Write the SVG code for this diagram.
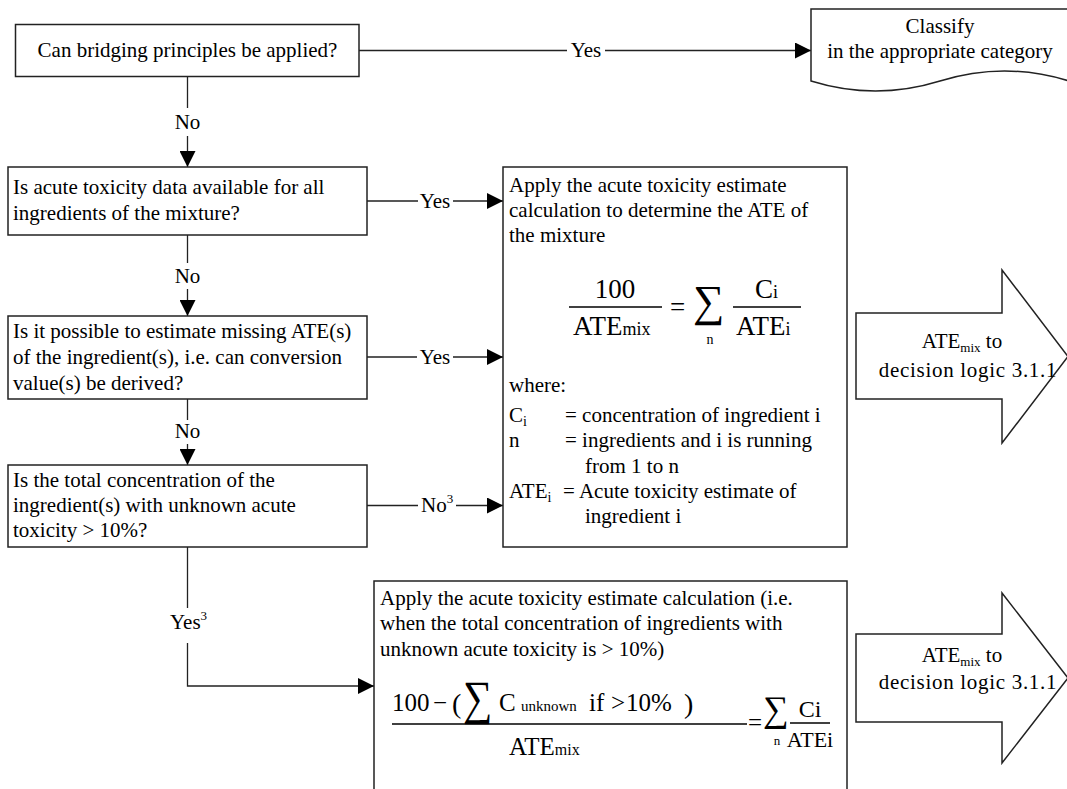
<svg xmlns="http://www.w3.org/2000/svg" width="1067" height="789" viewBox="0 0 1067 789">
<defs>
<marker id="ah" markerWidth="16" markerHeight="16" refX="16" refY="8" orient="auto" markerUnits="userSpaceOnUse"><path d="M0,0 L16,8 L0,16 Z" fill="#000"/></marker>
<style>
.box{fill:#fff;stroke:#222;stroke-width:1.5}
.t{font-family:"Liberation Serif","Times New Roman",serif;font-size:21px;fill:#000}
.c{text-anchor:middle}
.ln{fill:none;stroke:#222;stroke-width:1.3}
.fl{stroke:#000;stroke-width:1.3}
.sg{font-family:"Liberation Serif","DejaVu Serif",serif;fill:#000}
.dl{letter-spacing:0.7px}
</style>
</defs>
<rect width="1067" height="789" fill="#fff"/>

<g id="edges">
<path class="ln" d="M359,50.5 H567 M605,50.5 H811" marker-end="url(#ah)"/>
<path class="ln" d="M187.5,76 V108 M187.5,136 V167" marker-end="url(#ah)"/>
<path class="ln" d="M367,201 H418 M453,201 H503" marker-end="url(#ah)"/>
<path class="ln" d="M187.5,235 V263 M187.5,289 V316" marker-end="url(#ah)"/>
<path class="ln" d="M367,357 H417 M453,357 H503" marker-end="url(#ah)"/>
<path class="ln" d="M187.5,399 V420 M187.5,444 V465" marker-end="url(#ah)"/>
<path class="ln" d="M367,505.5 H418 M456,505.5 H503" marker-end="url(#ah)"/>
<path class="ln" d="M187.5,547 V608 M187.5,643 V686 H374" marker-end="url(#ah)"/>
<text class="t c" x="586" y="57">Yes</text>
<text class="t c" x="187.5" y="129">No</text>
<text class="t c" x="435" y="208">Yes</text>
<text class="t c" x="187.5" y="283">No</text>
<text class="t c" x="435" y="364">Yes</text>
<text class="t c" x="187.5" y="438">No</text>
<text class="t" x="421" y="512">No<tspan font-size="13" dy="-9">3</tspan></text>
<text class="t" x="170" y="629">Yes<tspan font-size="13" dy="-9">3</tspan></text>
</g>

<g id="n_bridging">
<rect class="box" x="15.5" y="24.5" width="343.5" height="52"/>
<text class="t c" x="187.5" y="57">Can bridging principles be applied?</text>
</g>

<g id="n_classify">
<path class="box" d="M811,9 H1069 V81 Q1004.5,61 940,81 Q875.5,101 811,81 Z"/>
<text class="t c" x="940" y="33">Classify</text>
<text class="t c" x="940" y="58">in the appropriate category</text>
</g>

<g id="n_acute_data">
<rect class="box" x="8" y="167" width="359" height="68"/>
<text class="t" x="13" y="194">Is acute toxicity data available for all</text>
<text class="t" x="13" y="220">ingredients of the mixture?</text>
</g>

<g id="n_estimate">
<rect class="box" x="8" y="316" width="359" height="83"/>
<text class="t" x="13" y="338">Is it possible to estimate missing ATE(s)</text>
<text class="t" x="13" y="364">of the ingredient(s), i.e. can conversion</text>
<text class="t" x="13" y="390">value(s) be derived?</text>
</g>

<g id="n_total_conc">
<rect class="box" x="8" y="465" width="359" height="82"/>
<text class="t" x="13" y="487">Is the total concentration of the</text>
<text class="t" x="13" y="512">ingredient(s) with unknown acute</text>
<text class="t" x="13" y="537">toxicity &gt; 10%?</text>
</g>

<g id="n_ate_formula">
<rect class="box" x="503" y="167" width="344" height="380"/>
<text class="t" x="509" y="192">Apply the acute toxicity estimate</text>
<text class="t" x="509" y="217">calculation to determine the ATE of</text>
<text class="t" x="509" y="242">the mixture</text>
<text class="t c" x="615" y="298" style="font-size:27px">100</text>
<line class="fl" x1="569" y1="307" x2="662" y2="307"/>
<text class="t" x="573" y="335" style="font-size:27px">ATE<tspan font-size="18">mix</tspan></text>
<text class="t" x="670" y="316" style="font-size:27px">=</text>
<text class="sg" x="693" y="316" font-size="44">∑</text>
<text class="t c" x="710" y="344" style="font-size:14px">n</text>
<line class="fl" x1="733" y1="307" x2="801" y2="307"/>
<text class="t" x="755" y="298" style="font-size:27px">C<tspan font-size="18">i</tspan></text>
<text class="t" x="736" y="335" style="font-size:27px">ATE<tspan font-size="18">i</tspan></text>
<text class="t" x="509" y="392">where:</text>
<text class="t" x="509" y="422">C<tspan font-size="14" dy="4">i</tspan></text>
<text class="t" x="565" y="422">= concentration of ingredient i</text>
<text class="t" x="509" y="447">n</text>
<text class="t" x="565" y="447">= ingredients and i is running</text>
<text class="t" x="585" y="473">from 1 to n</text>
<text class="t" x="509" y="498">ATE<tspan font-size="14" dy="4">i</tspan></text>
<text class="t" x="563" y="498">= Acute toxicity estimate of</text>
<text class="t" x="585" y="523">ingredient i</text>
</g>

<g id="n_ate_unknown">
<rect class="box" x="374" y="581" width="473" height="230"/>
<text class="t" x="380" y="605">Apply the acute toxicity estimate calculation (i.e.</text>
<text class="t" x="380" y="630">when the total concentration of ingredients with</text>
<text class="t" x="380" y="656">unknown acute toxicity is &gt; 10%)</text>
<text class="t" x="392" y="711" style="font-size:25px">100</text>
<text class="t" x="433" y="711" style="font-size:25px">−</text>
<text class="t" x="452" y="713" style="font-size:28px">(</text>
<text class="sg" transform="translate(463 714) scale(0.86 1)" font-size="48">∑</text>
<text class="t" x="499" y="711" style="font-size:25px">C</text>
<text class="t" x="521" y="711" style="font-size:15px">unknown</text>
<text class="t" x="589" y="711" style="font-size:25px">if</text>
<text class="t" x="611" y="711" style="font-size:25px">&gt;</text>
<text class="t" x="626" y="711" style="font-size:25px">10%</text>
<text class="t" x="684" y="713" style="font-size:28px">)</text>
<line class="fl" x1="392" y1="724" x2="747" y2="724"/>
<text class="t" x="509" y="755" style="font-size:25px">ATE<tspan font-size="16">mix</tspan></text>
<text class="t" x="748" y="731" style="font-size:25px">=</text>
<text class="sg" x="763" y="721" font-size="36">∑</text>
<text class="t c" x="777" y="745" style="font-size:13px">n</text>
<line class="fl" x1="790" y1="723" x2="830" y2="723"/>
<text class="t c" x="810" y="717" style="font-size:24px">Ci</text>
<text class="t c" x="810" y="747" style="font-size:22px">ATEi</text>
</g>

<g id="n_arrow1">
<path class="box" d="M856,313 H1002 V270 L1068,356.5 L1002,443 V399 H856 Z"/>
<text class="t c" x="962" y="348">ATE<tspan font-size="13" dy="4">mix</tspan><tspan dy="-4"> to</tspan></text>
<text class="t c dl" x="968" y="377">decision logic 3.1.1</text>
</g>

<g id="n_arrow2">
<path class="box" d="M856,634 H1002 V593 L1068,678 L1002,763 V722 H856 Z"/>
<text class="t c" x="962" y="662">ATE<tspan font-size="13" dy="4">mix</tspan><tspan dy="-4"> to</tspan></text>
<text class="t c dl" x="968" y="689">decision logic 3.1.1</text>
</g>
</svg>
